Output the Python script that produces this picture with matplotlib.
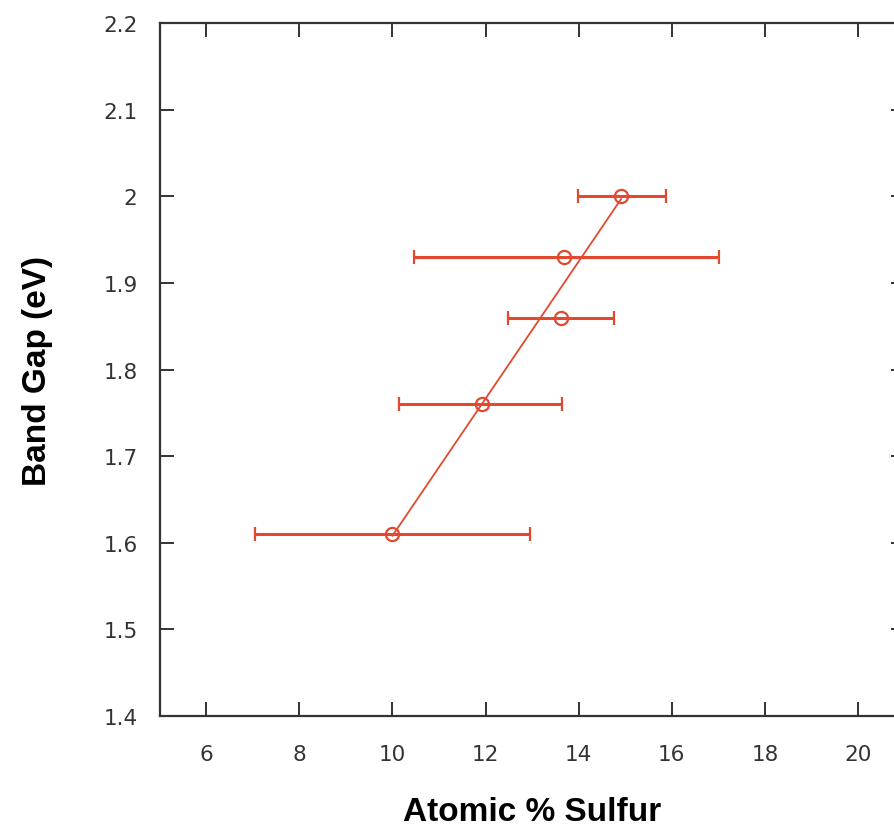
import numpy as np
import matplotlib
matplotlib.use("Agg")
import matplotlib.pyplot as plt

# atomic % sulfur vs band gap
sulfur = [10.0, 11.92, 13.62, 13.69, 14.91]
sulfur_lo = [7.05, 10.13, 12.48, 10.47, 13.99]
sulfur_hi = [12.96, 13.64, 14.76, 17.02, 15.87]
band_gap = [1.61, 1.76, 1.86, 1.93, 2.00]

xticks = [6, 8, 10, 12, 14, 16, 18, 20]
yticks = [1.4, 1.5, 1.6, 1.7, 1.8, 1.9, 2.0, 2.1, 2.2]
ytick_labels = ["1.4", "1.5", "1.6", "1.7", "1.8", "1.9", "2", "2.1", "2.2"]

red = "#e2492f"
grey = "#333333"

x = np.array(sulfur)
y = np.array(band_gap)
xerr = [x - np.array(sulfur_lo), np.array(sulfur_hi) - x]

fig = plt.figure(figsize=(8.95, 8.29), dpi=100)
# right spine sits just outside the picture, as in the original
ax = fig.add_axes([0.1784, 0.135, 0.8323, 0.836])

### linear fit drawn between the lowest and highest point
slope, icpt = np.polyfit(x, y, 1)
xf = np.array([x.min(), x.max()])
ax.plot(xf, slope * xf + icpt, color=red, lw=1.3, zorder=2)

ax.errorbar(x, y, xerr=xerr, fmt="o", color=red, ecolor=red, elinewidth=2.2,
            capsize=5, capthick=1.8, markersize=9.5, markerfacecolor="none",
            markeredgewidth=1.6, zorder=3)

ax.set_xlim(5, 21)
ax.set_ylim(1.4, 2.2)
ax.set_xticks(xticks)
ax.set_yticks(yticks)
ax.set_yticklabels(ytick_labels)

for s in ax.spines.values():
    s.set_color(grey)
    s.set_linewidth(1.6)
ax.tick_params(axis="both", direction="in", length=10, width=1.4, color=grey,
               labelsize=15.5, labelcolor="#333333", top=True, right=True)
ax.tick_params(axis="x", pad=20)
ax.tick_params(axis="y", pad=16)

ax.set_xlabel("Atomic % Sulfur", fontsize=24, fontweight="bold",
              family="Liberation Sans", labelpad=23)
ax.set_ylabel("Band Gap (eV)", fontsize=24, fontweight="bold",
              family="Liberation Sans", labelpad=36)

fig.savefig("out.png", dpi=100)
